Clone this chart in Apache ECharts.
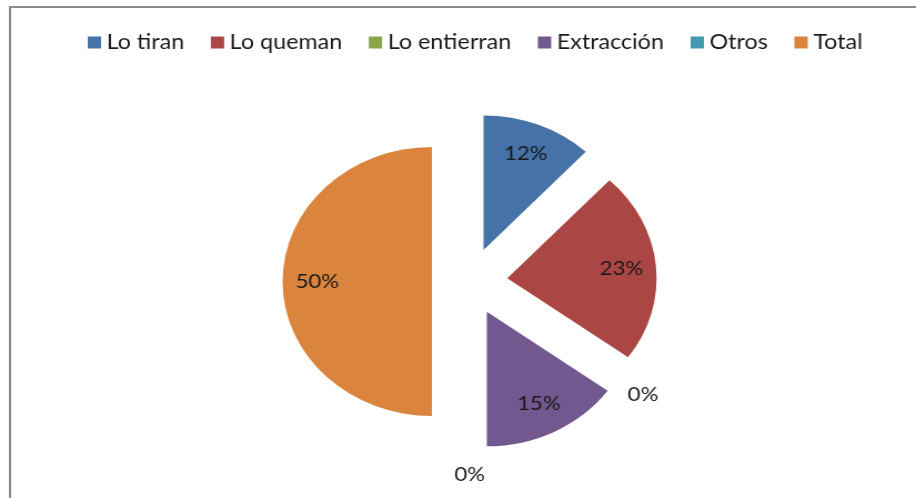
<!DOCTYPE html>
<html>
<head>
<meta charset="utf-8">
<script src="https://cdn.jsdelivr.net/npm/echarts@6/dist/echarts.min.js"></script>
<style>
  html, body { margin: 0; padding: 0; background: #fff; overflow: hidden; }
  /* the original picture is stretched sideways, so the chart is too */
  #chart {
    position: absolute; left: 0; top: 0;
    width: 825px; height: 498px;
    transform: scaleX(1.1103); transform-origin: 0 0;
  }
</style>
</head>
<body>
<div id="chart"></div>
<script>
const categories = ['Lo tiran', 'Lo queman', 'Lo entierran', 'Extracción', 'Otros', 'Total']
const percentages = [12, 23, 0, 15, 0, 50]
const colors = ['#4572A7', '#AA4643', '#89A54E', '#71588F', '#4198AF', '#DB843D']

const center = [423, 281.5]
const offset = 34
const font = 'Lato'

const makeData = (opts) => categories.map((name, i) => {
  return Object.assign({ name: name, value: percentages[i], selected: true }, opts(i))
})

const baseSeries = {
  type: 'pie',
  center: center,
  selectedMode: 'multiple',
  selectedOffset: offset,
  avoidLabelOverlap: false,
  labelLine: { show: false },
  emphasis: { disabled: true },
  select: { itemStyle: { borderWidth: 0 } },
  animation: false
}

const labelStyle = {
  show: true,
  position: 'inside',
  formatter: '{c}%',
  fontFamily: font,
  fontSize: 20,
  color: '#1a1a1a',
  offset: [0, 3]
}

const option = {
  animation: false,
  color: colors,
  legend: {
    left: 74,
    top: 27,
    icon: 'rect',
    itemWidth: 12,
    itemHeight: 12,
    itemGap: 24,
    selectedMode: false,
    textStyle: { fontFamily: font, fontSize: 21, color: '#1a1a1a' },
    data: categories.map((name, i) => ({ name: name, itemStyle: { color: colors[i] } }))
  },
  graphic: [{
    type: 'rect',
    shape: { x: 9, y: 7, width: 840, height: 520 },
    style: { fill: 'none', stroke: '#8c8c8c', lineWidth: 2 },
    silent: true
  }],
  series: [
    Object.assign({}, baseSeries, {
      name: 'pie',
      radius: [0, 134.5],
      label: { show: false },
      itemStyle: { borderWidth: 0 },
      data: makeData(i => ({ itemStyle: { color: colors[i] } }))
    }),
    // labels of the slices, placed three quarters of the way out
    Object.assign({}, baseSeries, {
      name: 'labels',
      radius: [66, 134.5],
      silent: true,
      itemStyle: { color: 'transparent', borderWidth: 0 },
      label: labelStyle,
      data: makeData(i => ({ label: { show: percentages[i] > 0 } }))
    }),
    // labels of the empty slices, outside the pie
    Object.assign({}, baseSeries, {
      name: 'zeroLabels',
      radius: [148, 164],
      silent: true,
      itemStyle: { color: 'transparent', borderWidth: 0 },
      label: labelStyle,
      data: makeData(i => ({ label: { show: percentages[i] === 0 } }))
    })
  ]
}

const chart = echarts.init(document.getElementById('chart'))
chart.setOption(option)
</script>
</body>
</html>
